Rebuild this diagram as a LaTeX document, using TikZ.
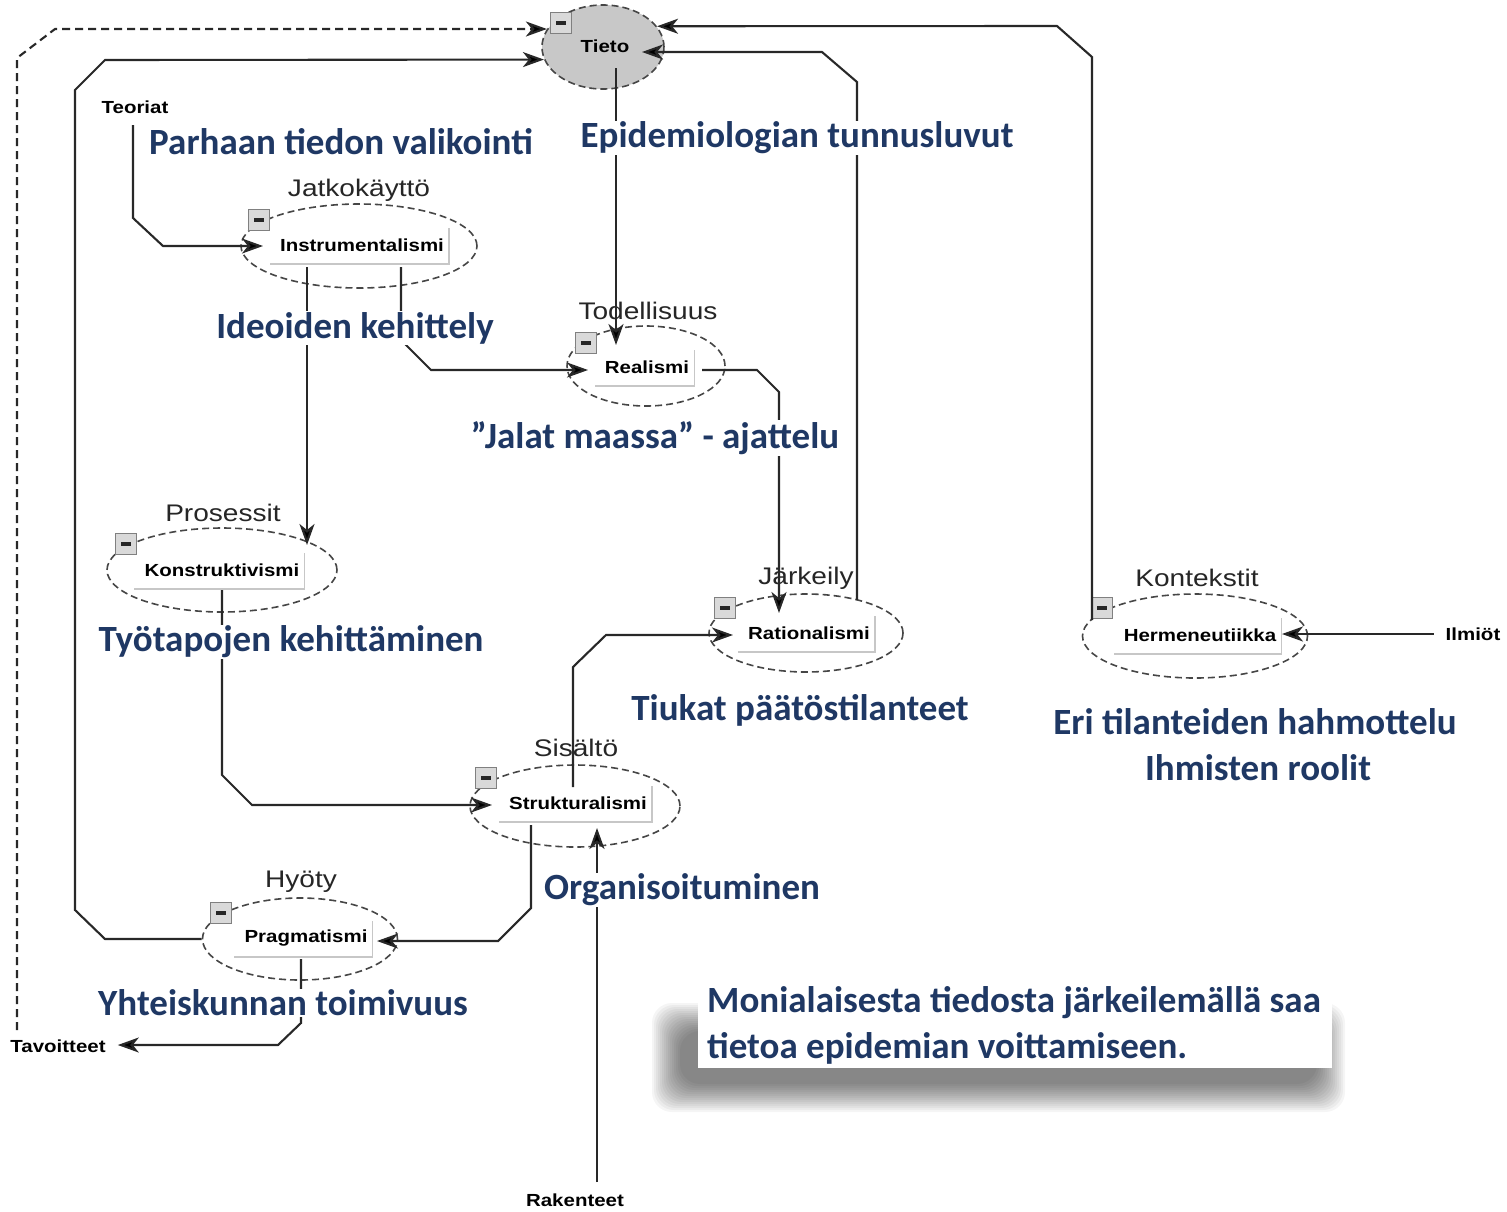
\documentclass[tikz,border=0pt]{standalone}
\usepackage{fontspec}
\setmainfont{Liberation Sans}
\newfontfamily\arialst{Liberation Sans}[FakeStretch=1.17]
\newfontfamily\calib{Carlito}
\usetikzlibrary{arrows.meta,shapes.geometric}
\definecolor{navy}{RGB}{31,56,100}
\definecolor{edge}{RGB}{70,70,70}
\definecolor{linec}{RGB}{40,40,40}
\definecolor{tgray}{RGB}{200,200,200}
\newcommand\labfr[1]{\draw[frame] ([shift={(5,-17)}]#1.east) -- ([shift={(5,19)}]#1.east) -- ([shift={(-10,19)}]#1.west);}
\begin{document}
\begin{tikzpicture}[x=1pt,y=-1pt,
  ell/.style={ellipse, draw=edge, line width=1.6pt, dash pattern=on 7pt off 4pt, inner sep=0pt},
  lab/.style={inner sep=0pt, font={\fontsize{17.5}{20}\arialst\bfseries}},
  cat/.style={inner sep=0pt, text=black!85, font={\fontsize{24}{28}\arialst}},
  bluetxt/.style={fill=white, inner sep=1pt, text=navy, font={\fontsize{37}{44}\calib\bfseries}},
  conn/.style={draw=linec, line width=2.1pt, -{Stealth[length=21pt,width=15pt,inset=6pt,fill=black]}},
  dconn/.style={conn, dash pattern=on 8pt off 5pt},
  frame/.style={draw=black!22, line width=1.3pt},
  mbox/.style={draw=black!50, fill=black!15, line width=1.2pt, minimum size=21pt, inner sep=0pt, text=black!85},
]
\useasboundingbox[fill=white] (0,0) rectangle (1507,1211);

% concept ellipses
\node[ell, fill=tgray, minimum width=122pt, minimum height=84pt] (tieto) at (603,47) {};
\node[lab] (tietoL) at (605,46) {Tieto};
\node[ell, minimum width=236pt, minimum height=84pt] (ins) at (359,246) {};
\node[ell, minimum width=158pt, minimum height=80pt] (rea) at (646,366) {};
\node[ell, minimum width=230pt, minimum height=84pt] (kon) at (222,570) {};
\node[ell, minimum width=194pt, minimum height=78pt] (rat) at (806,633) {};
\node[ell, minimum width=225pt, minimum height=84pt] (her) at (1195,636) {};
\node[ell, minimum width=210pt, minimum height=82pt] (str) at (575,806) {};
\node[ell, minimum width=195pt, minimum height=82pt] (pra) at (300,939) {};

% inner labels with frames
\node[lab] (insL) at (362,245) {Instrumentalismi}; \labfr{insL}
\node[lab] (reaL) at (647,367) {Realismi}; \labfr{reaL}
\node[lab] (konL) at (222,570) {Konstruktivismi}; \labfr{konL}
\node[lab] (ratL) at (809,633) {Rationalismi}; \labfr{ratL}
\node[lab] (herL) at (1200,635) {Hermeneutiikka}; \labfr{herL}
\node[lab] (strL) at (578,803) {Strukturalismi}; \labfr{strL}
\node[lab] (praL) at (306,938) {Pragmatismi}; \labfr{praL}

% minus boxes
\node[mbox] (tieM) at (561,23) {\rule{10pt}{3.5pt}};
\node[mbox] (insM) at (259,220) {\rule{10pt}{3.5pt}};
\node[mbox] (reaM) at (586,343) {\rule{10pt}{3.5pt}};
\node[mbox] (konM) at (126,544) {\rule{10pt}{3.5pt}};
\node[mbox] (ratM) at (725,608) {\rule{10pt}{3.5pt}};
\node[mbox] (herM) at (1102,608) {\rule{10pt}{3.5pt}};
\node[mbox] (strM) at (486,778) {\rule{10pt}{3.5pt}};
\node[mbox] (praM) at (221,913) {\rule{10pt}{3.5pt}};

% category labels
\node[cat] (insC) at (359,190) {Jatkokäyttö};
\node[cat] (reaC) at (648,311) {Todellisuus};
\node[cat] (konC) at (223,513) {Prosessit};
\node[cat] (ratC) at (806,578) {Järkeily};
\node[cat] (herC) at (1197,578) {Kontekstit};
\node[cat] (strC) at (576,748) {Sisältö};
\node[cat] (praC) at (301,882) {Hyöty};

% outer small labels
\node[lab] (teo) at (135,107) {Teoriat};
\node[lab] (tav) at (58,1046) {Tavoitteet};
\node[lab] (ilm) at (1473,634) {Ilmiöt};
\node[lab] (rak) at (575,1200) {Rakenteet};

% connectors
\draw[dconn] ([shift={(-41,-16)}]tav.center) -- (17,58) -- (55,29) -- ([shift={(-3,6)}]tieM.west);
\draw[conn] (pra.west) -- (105,939) -- (75,910) -- (75,90) -- (105,60) -- (tieto.192.6);
\draw[conn] ([shift={(-2,18)}]teo.center) -- (133,218) -- (163,246) -- ([shift={(-96,0)}]ins.center);
\draw[conn] ([shift={(13,21)}]tieto.center) -- ([shift={(-30,-21)}]rea.center);
\draw[conn] ([shift={(-52,21)}]ins.center) -- ([shift={(85,-25)}]kon.center);
\draw[conn] ([shift={(42,21)}]ins.center) -- (401,340) -- (431,370) -- ([shift={(-58,4)}]rea.center);
\draw[conn] ([shift={(56,4)}]rea.center) -- (757,370) -- (779,392) -- ([shift={(-27,-20)}]rat.center);
\draw[conn] ([shift={(51,-33)}]rat.center) -- (857,82) -- (822,52) -- ([shift={(39,5)}]tieto.center);
\draw[conn] ([shift={(-103,-16)}]her.center) -- (1092,57) -- (1057,26) -- (tieto.21.6);
\draw[conn] ([shift={(0,20)}]kon.center) -- (222,775) -- (252,805) -- ([shift={(-83,-1)}]str.center);
\draw[conn] ([shift={(-2,-19)}]str.center) -- (573,667) -- (606,635) -- ([shift={(-73,2)}]rat.center);
\draw[conn] ([shift={(-44,19)}]str.center) -- (531,908) -- (498,941) -- ([shift={(77,2)}]pra.center);
\draw[conn] ([shift={(1,20)}]pra.center) -- (301,1023) -- (278,1045) -- ([shift={(12,-1)}]tav.east);
\draw[conn] ([shift={(22,-18)}]rak.center) -- ([shift={(22,22)}]str.center);
\draw[conn] ([shift={(-12,0)}]ilm.west) -- ([shift={(87,-2)}]her.center);

% blue annotations
\node[bluetxt] (b1) at (341,142) {Parhaan tiedon valikointi};
\node[bluetxt] (b2) at (797,138) {Epidemiologian tunnusluvut};
\node[bluetxt] (b3) at (355,328) {Ideoiden kehittely};
\node[bluetxt] (b4) at (655,438) {”Jalat maassa” - ajattelu};
\node[bluetxt] (b5) at (291,642) {Työtapojen kehittäminen};
\node[bluetxt] (b6) at (800,710) {Tiukat päätöstilanteet};
\node[bluetxt] (b7) at (1255,722) {Eri tilanteiden hahmottelu};
\node[bluetxt] (b8) at (1258,768) {Ihmisten roolit};
\node[bluetxt] (b9) at (682,890) {Organisoituminen};
\node[bluetxt] (b10) at (283,1003) {Yhteiskunnan toimivuus};

% note with soft shadow
\foreach \i in {0,...,14}
  \fill[black, opacity=0.04, rounded corners=20pt] (652+2*\i,1003+2*\i) rectangle (1345-2*\i,1112-2*\i);
\node[fill=white, inner sep=0pt, minimum width=634pt, minimum height=88pt, anchor=north west] (note) at (698,980) {};
\node[bluetxt, fill=none, anchor=west] (n1) at (706,1003) {Monialaisesta tiedosta järkeilemällä saa};
\node[bluetxt, fill=none, anchor=west] (n2) at (706,1048) {tietoa epidemian voittamiseen.};
\end{tikzpicture}
\end{document}
